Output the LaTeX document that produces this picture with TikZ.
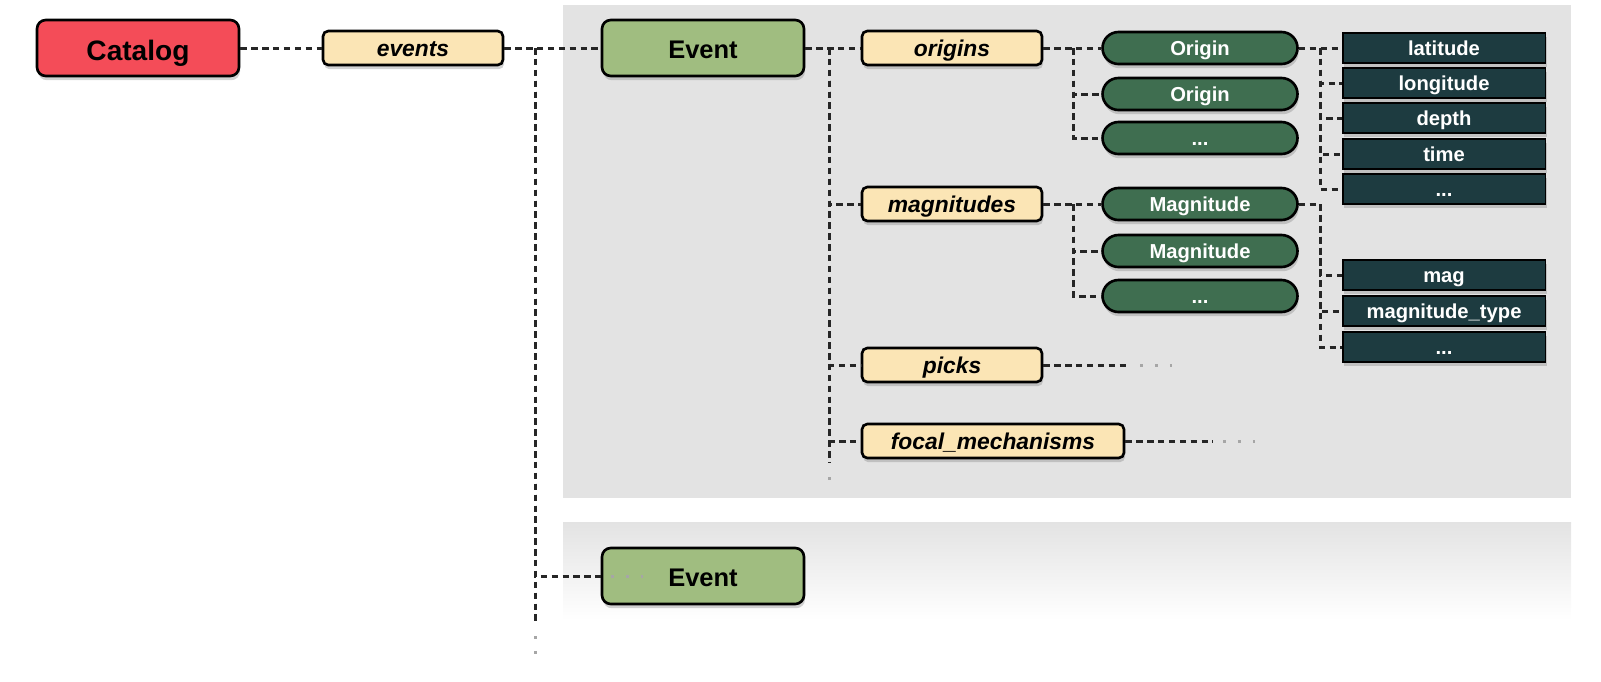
\documentclass[tikz,border=0pt]{standalone}
\usepackage{fontspec}
\setmainfont{Liberation Sans}
\usetikzlibrary{shapes.misc,shadows}
\definecolor{catred}{RGB}{244,76,88}
\definecolor{listyellow}{RGB}{251,229,181}
\definecolor{eventgreen}{RGB}{160,189,128}
\definecolor{objgreen}{RGB}{63,110,80}
\definecolor{fielddark}{RGB}{29,59,64}
\definecolor{panelgray}{RGB}{227,227,227}
\begin{document}
\begin{tikzpicture}[x=0.02cm,y=-0.02cm,
  box/.style={draw=black,line width=1.5pt,inner sep=0pt,text depth=0pt,
    drop shadow={shadow xshift=0.6pt,shadow yshift=-2.4pt,opacity=.35}},
  catalogbox/.style={box,rounded corners=5pt,fill=catred,minimum width=4.04cm,
    minimum height=1.12cm,text height=14pt,font=\bfseries\fontsize{16}{18}\selectfont},
  eventbox/.style={box,rounded corners=5pt,fill=eventgreen,minimum width=4.04cm,
    minimum height=1.12cm,text height=12.4pt,font=\bfseries\fontsize{14.5}{16}\selectfont},
  listbox/.style={box,rounded corners=3pt,fill=listyellow,minimum width=3.6cm,
    minimum height=0.68cm,text height=10pt,font=\bfseries\itshape\fontsize{13}{15}\selectfont},
  objpill/.style={box,rounded rectangle,fill=objgreen,text=white,minimum width=3.9cm,
    minimum height=0.64cm,text height=8pt,font=\bfseries\fontsize{11.5}{13}\selectfont},
  fieldbox/.style={box,line width=1.1pt,fill=fielddark,text=white,minimum width=4.06cm,
    minimum height=0.6cm,text height=8.4pt,font=\bfseries\fontsize{11.5}{13}\selectfont},
  link/.style={line width=1.7pt,black!85,dash pattern=on 3.7pt off 2.5pt},
  fade/.style={line width=1.7pt,black!35,dash pattern=on 1.6pt off 6.9pt}]
\useasboundingbox (0,0) rectangle (1601,681);

\fill[panelgray] (563,5) rectangle (1571,498);
\shade[top color=panelgray,bottom color=white] (563,522) rectangle (1571,620);

\node[catalogbox] (catalog) at (138,48) {Catalog};
\node[listbox] (events) at (413,48) {events};
\node[eventbox] (event) at (703,48) {Event};
\node[eventbox] (event2) at (703,576) {Event};

\node[listbox] (origins) at (952,48) {origins};
\node[listbox] (magnitudes) at (952,204) {magnitudes};
\node[listbox] (picks) at (952,365) {picks};
\node[listbox,minimum width=5.24cm] (focal) at (993,441) {focal\_mechanisms};

\node[objpill] (origin1) at (1200,48) {Origin};
\node[objpill] (origin2) at (1200,94) {Origin};
\node[objpill] (origin3) at (1200,138) {...};
\node[objpill] (mag1) at (1200,204) {Magnitude};
\node[objpill] (mag2) at (1200,251) {Magnitude};
\node[objpill] (mag3) at (1200,296) {...};

\node[fieldbox] (lat) at (1444,48) {latitude};
\node[fieldbox] (lon) at (1444,83) {longitude};
\node[fieldbox] (depth) at (1444,118) {depth};
\node[fieldbox] (time) at (1444,154) {time};
\node[fieldbox] (omore) at (1444,189) {...};
\node[fieldbox] (magval) at (1444,275) {mag};
\node[fieldbox] (magtype) at (1444,311) {magnitude\_type};
\node[fieldbox] (mmore) at (1444,347) {...};

\coordinate (evbr) at (535,48);
\coordinate (evend) at (535,623);
\coordinate (evfade) at (535,655);
\draw[link] (catalog) -- (events);
\draw[link] (events) -- (event);
\draw[link] (evbr) -- (evend);
\draw[fade] (evend) ++(0,13) -- (evfade);
\draw[link] (evbr) |- (event2.west);
\draw[fade] ([xshift=6pt]event2.west) -- ([xshift=24pt]event2.west);

\coordinate (obr) at (829,48);
\coordinate (oend) at (829,463);
\coordinate (ofade) at (829,482);
\draw[link] (event) -- (origins);
\draw[link] (obr) -- (oend);
\draw[fade] (oend) ++(0,14) -- (ofade);
\draw[link] (obr) |- (magnitudes.west);
\draw[link] (obr) |- (picks.west);
\draw[link] (obr) |- (focal.west);

\coordinate (orbr) at (1073,48);
\draw[link] (origins) -- (origin1);
\draw[link] (orbr) |- (origin2.west);
\draw[link] (orbr) |- (origin3.west);
\coordinate (mgbr) at (1073,204);
\draw[link] (magnitudes) -- (mag1);
\draw[link] (mgbr) |- (mag2.west);
\draw[link] (mgbr) |- (mag3.west);

\coordinate (fobr) at (1320,48);
\draw[link] (origin1.east) -- (fobr) |- (lat.west);
\draw[link] (fobr) |- (lon.west);
\draw[link] (fobr) |- (depth.west);
\draw[link] (fobr) |- (time.west);
\draw[link] (fobr) |- (omore.west);
\coordinate (fmbr) at (1320,204);
\draw[link] (mag1.east) -- (fmbr) |- (magval.west);
\draw[link] (fmbr) |- (magtype.west);
\draw[link] (fmbr) |- (mmore.west);

\coordinate (pkend) at (1130,365);
\coordinate (pkfade) at (1172,365);
\draw[link] (picks) -- (pkend);
\draw[fade] (pkend) ++(10,0) -- (pkfade);
\coordinate (fcend) at (1213,441);
\coordinate (fcfade) at (1255,441);
\draw[link] (focal) -- (fcend);
\draw[fade] (fcend) ++(10,0) -- (fcfade);
\end{tikzpicture}
\end{document}
